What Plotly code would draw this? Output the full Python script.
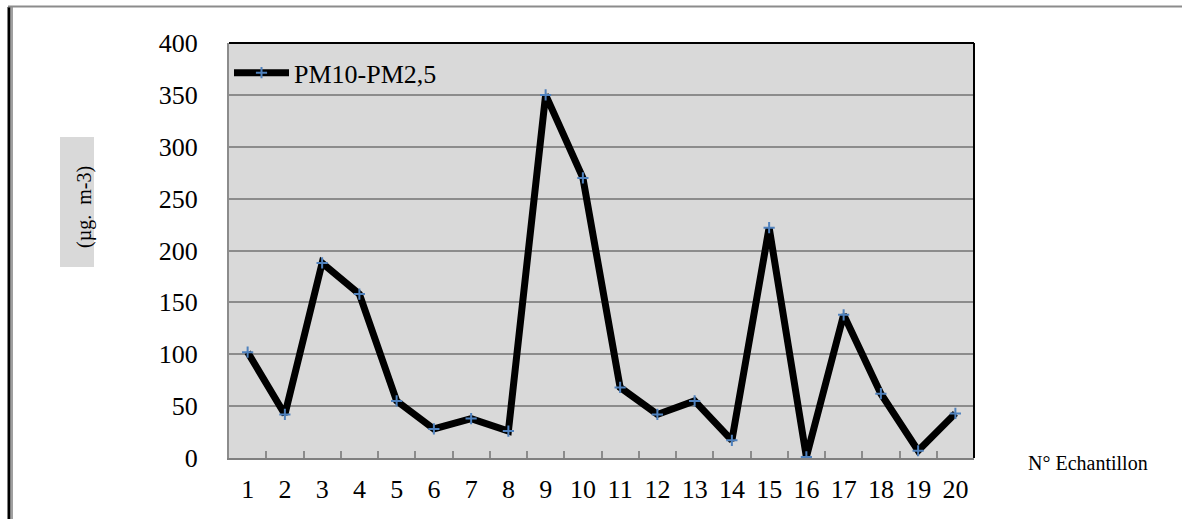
import plotly.graph_objects as go

# Sample numbers and PM10-PM2,5 concentrations (µg. m-3)
samples = [str(i) for i in range(1, 21)]
pm_coarse = [102, 42, 188, 158, 55, 28, 38, 26, 350, 270,
             68, 42, 55, 17, 222, 1, 138, 62, 7, 43]
y_ticks = [0, 50, 100, 150, 200, 250, 300, 350, 400]

W, H = 1182, 519
L, R, T, B = 229, 208, 43, 61
PW, PH = W - L - R, H - T - B

def px(x):
    return (x - L) / PW

def py(y):
    return (H - B - y) / PH

SERIF = "Liberation Serif"

fig = go.Figure()
fig.add_trace(go.Scatter(
    x=samples, y=pm_coarse, mode="lines+markers", name="PM10-PM2,5",
    line=dict(color="black", width=7),
    marker=dict(symbol="cross-thin", size=8,
                line=dict(color="#4f81bd", width=2), color="#4f81bd"),
))

shapes = [
    # frame of the plotting area: dark top and right edges
    dict(type="line", xref="paper", yref="paper", x0=0, x1=1, y0=1, y1=1,
         line=dict(color="black", width=2)),
    dict(type="line", xref="paper", yref="paper", x0=1, x1=1, y0=0, y1=1,
         line=dict(color="black", width=2)),
    # page border
    dict(type="line", xref="paper", yref="paper", x0=px(9), x1=px(9),
         y0=py(7), y1=py(519), line=dict(color="black", width=3)),
    dict(type="line", xref="paper", yref="paper", x0=px(12), x1=px(12),
         y0=py(7), y1=py(519), line=dict(color="#a0a0a0", width=2)),
    dict(type="line", xref="paper", yref="paper", x0=px(8), x1=px(1182),
         y0=py(6.5), y1=py(6.5), line=dict(color="#8c8c8c", width=2)),
    # shaded box behind the unit label
    dict(type="rect", xref="paper", yref="paper", x0=px(60), x1=px(94),
         y0=py(267), y1=py(137), fillcolor="#d9d9d9", line=dict(width=0),
         layer="below"),
]

annotations = [
    dict(text="(µg.  m-3)", textangle=-90, xref="paper", yref="paper",
         x=px(84), y=py(207), xanchor="center", yanchor="middle",
         showarrow=False,
         font=dict(family=SERIF, size=20, color="black")),
    dict(text="N° Echantillon", xref="paper", yref="paper",
         x=px(1088), y=py(463), xanchor="center", yanchor="middle",
         showarrow=False,
         font=dict(family=SERIF, size=20, color="black")),
]

fig.update_layout(
    width=W, height=H,
    margin=dict(l=L, r=R, t=T, b=B, autoexpand=False),
    paper_bgcolor="white", plot_bgcolor="#d9d9d9",
    font=dict(family=SERIF, size=26, color="black"),
    showlegend=True,
    legend=dict(x=0.0, y=0.985, xanchor="left", yanchor="top",
                bgcolor="rgba(0,0,0,0)", font=dict(family=SERIF, size=26),
                itemwidth=55),
    shapes=shapes, annotations=annotations,
    xaxis=dict(type="category", range=[-0.5, 19.5], showgrid=False,
               zeroline=False, showline=True, linecolor="#808080",
               linewidth=2, ticks="inside", ticklen=7, tickwidth=2,
               tickcolor="#8c8c8c", tickson="boundaries",
               ticklabelstandoff=7, tickangle=0, automargin=False,
               tickfont=dict(family=SERIF, size=26)),
    yaxis=dict(range=[0, 400], tickvals=y_ticks, showgrid=True,
               gridcolor="#8c8c8c", gridwidth=2, zeroline=False,
               showline=True, linecolor="#8c8c8c", linewidth=2,
               ticks="", ticklabelstandoff=24, automargin=False,
               tickfont=dict(family=SERIF, size=26)),
)

fig.write_html("out.html")
